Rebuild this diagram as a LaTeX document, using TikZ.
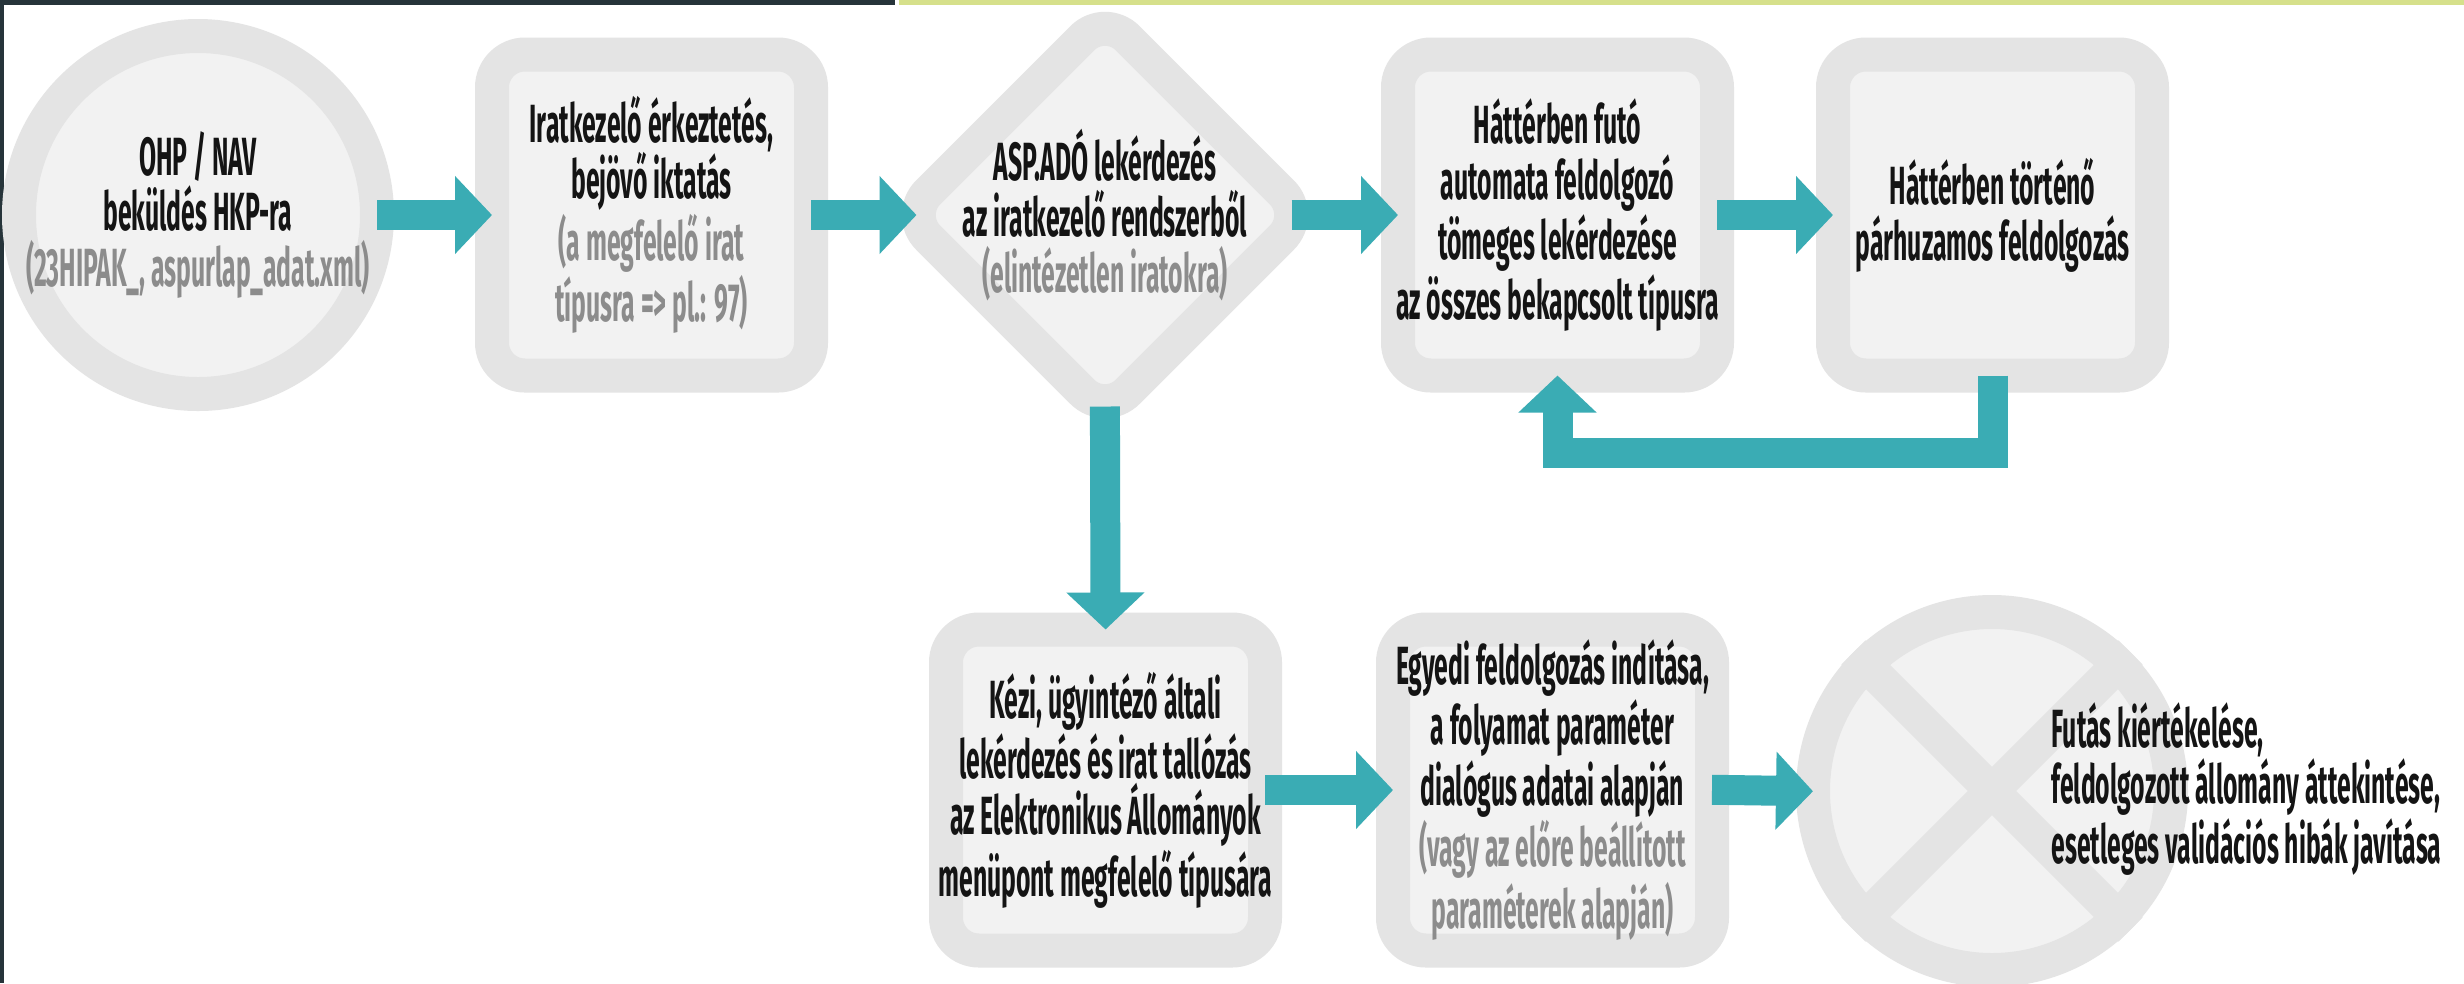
\documentclass[tikz,border=0pt]{standalone}
\usepackage{fontspec}
\usepackage{tikz}
\usetikzlibrary{shapes.geometric,arrows.meta}
\newfontfamily\condfont[FakeStretch=0.46]{Fira Sans}
\definecolor{ringgray}{HTML}{E4E4E4}
\definecolor{fillgray}{HTML}{F2F2F2}
\definecolor{flowteal}{HTML}{3AACB4}
\definecolor{notegray}{HTML}{8C8C8C}
\definecolor{topdark}{HTML}{26343A}
\definecolor{topgreen}{HTML}{D6E08B}
\newcommand{\note}[1]{{\color{notegray}#1}}
\tikzset{
  lbl/.style={font=\condfont\bfseries\fontsize{15.3pt}{15.9pt}\selectfont, align=center, text=black!92, inner sep=0pt},
  procbox/.style={draw=ringgray, fill=fillgray, line width=0.34cm, rounded corners=0.33cm, minimum width=3.19cm, minimum height=3.21cm, inner sep=0pt},
  endcircle/.style={circle, draw=ringgray, fill=fillgray, line width=0.34cm, minimum size=3.58cm, inner sep=0pt},
  decision/.style={diamond, aspect=1, draw=ringgray, fill=fillgray, line width=0.34cm, rounded corners=0.32cm, minimum width=4.13cm, minimum height=4.13cm, inner sep=0pt},
  flow/.style={draw=flowteal, line width=0.3cm, -{Triangle[length=0.37cm,width=0.76cm]}, shorten <=-0.17cm, shorten >=-0.17cm}
}
\begin{document}
\begin{tikzpicture}
      \useasboundingbox (0,0) rectangle (24.64,-9.83);
      \fill[white] (0,0) rectangle (24.64,-9.83);
      \fill[topdark] (0,0) rectangle (8.95,-0.05);
      \fill[topgreen] (8.99,0) rectangle (24.64,-0.05);
      \fill[topdark] (0,0) rectangle (0.04,-9.83);

      \node[endcircle] (ohp) at (1.98,-2.15) {};
      \node[procbox] (iktat) at (6.515,-2.15) {};
      \node[decision] (aspado) at (11.05,-2.15) {};
      \node[procbox] (auto) at (15.575,-2.15) {};
      \node[procbox] (parh) at (19.925,-2.15) {};
      \node[procbox] (kezi) at (11.055,-7.9) {};
      \node[procbox] (egyedi) at (15.525,-7.9) {};
      \node[endcircle] (futas) at (19.92,-7.91) {};
      \draw[ringgray, line width=0.34cm] (futas.north west) -- (futas.south east)
            (futas.north east) -- (futas.south west);

      \node[lbl] (ohptxt) at (ohp) {OHP / NAV\\ beküldés HKP-ra\\ \note{(23HIPAK\_, aspurlap\_adat.xml)}};
      \node[lbl] (iktattxt) at (iktat) {Iratkezelő érkeztetés,\\ bejövő iktatás\\ \note{(a megfelelő irat}\\ \note{típusra => pl.: 97)}};
      \node[lbl] (aspadotxt) at (aspado) {ASP.ADÓ lekérdezés\\ az iratkezelő rendszerből\\ \note{(elintézetlen iratokra)}};
      \node[lbl] (autotxt) at (auto) {Háttérben futó\\ automata feldolgozó\\ tömeges lekérdezése\\ az összes bekapcsolt típusra};
      \node[lbl] (parhtxt) at (parh) {Háttérben történő\\ párhuzamos feldolgozás};
      \node[lbl] (kezitxt) at (kezi) {Kézi, ügyintéző általi\\ lekérdezés és irat tallózás\\ az Elektronikus Állományok\\ menüpont megfelelő típusára};
      \node[lbl] (egyeditxt) at (egyedi) {Egyedi feldolgozás indítása,\\ a folyamat paraméter\\ dialógus adatai alapján\\ \note{(vagy az előre beállított}\\ \note{paraméterek alapján)}};
      \node[lbl, align=left, anchor=west] (futastxt) at (20.51,-7.89) {Futás kiértékelése,\\ feldolgozott állomány áttekintése,\\ esetleges validációs hibák javítása};

      \draw[flow] (ohp.east) -- (iktat.west);
      \draw[flow, shorten >=-0.35cm] (iktat.east) -- (aspado.west);
      \draw[flow, shorten <=-0.37cm] (aspado.east) -- (auto.west);
      \draw[flow] (auto.east) -- (parh.west);
      \draw[flow] (parh.south) -- ++(0,-0.6) -| (auto.south);
      \draw[flow, shorten <=-0.32cm] (aspado.south) -- (kezi.north);
      \draw[flow] (kezi.east) -- (egyedi.west);
      \draw[flow] (egyedi.east) -- (futas.west);
\end{tikzpicture}
\end{document}
